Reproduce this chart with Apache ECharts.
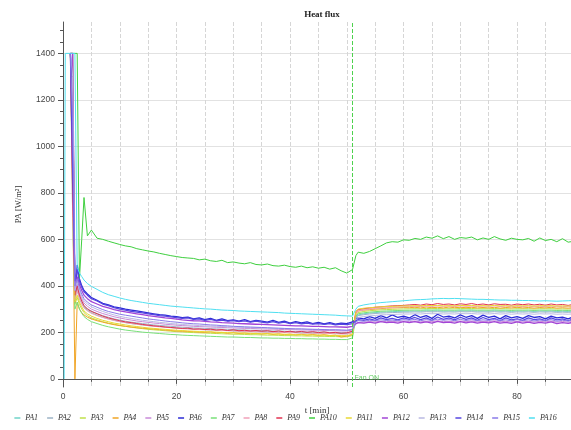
<!DOCTYPE html>
<html>
<head>
<meta charset="utf-8">
<script src="https://cdn.jsdelivr.net/npm/echarts@6/dist/echarts.min.js"></script>
<style>
  html, body { margin: 0; padding: 0; background: #fff; }
  #chart { width: 571px; height: 430px; }
</style>
</head>
<body>
<div id="chart"></div>
<script>
// time axis [min], shared by all probes
const T = [0.2, 0.4, 1.3, 1.7, 2.1, 2.5, 2.9, 3.3, 3.7, 4.3,
  5, 6, 7, 8, 9, 10, 11, 12, 13, 14,
  15, 16, 17, 18, 19, 20, 21, 22, 23, 24,
  25, 26, 27, 28, 29, 30, 31, 32, 33, 34,
  35, 36, 37, 38, 39, 40, 41, 42, 43, 44,
  45, 46, 47, 48, 49, 50, 51,
  51.6, 52, 53, 54, 55, 56, 57, 58, 59, 60,
  61, 62, 63, 64, 65, 66, 67, 68, 69, 70,
  71, 72, 73, 74, 75, 76, 77, 78, 79, 80,
  81, 82, 83, 84, 85, 86, 87, 88, 89, 90];

const PA1 = [null, null, 1400, 1000, 350, 380, 345, 325, 308, 295,
  284, 274, 265, 258, 252, 247, 242, 238, 235, 232,
  229, 227, 225, 223, 221, 219, 217, 216, 214, 213,
  212, 211, 210, 209, 208, 207, 206, 205, 205, 204,
  203, 202, 202, 201, 200, 200, 199, 198, 198, 197,
  197, 196, 196, 195, 195, 194, 200,
  265, 275, 280, 283, 285, 287, 288, 289, 290, 291,
  291, 292, 291, 293, 292, 293, 291, 292, 291, 293,
  292, 293, 291, 292, 291, 293, 291, 292, 290, 292,
  291, 292, 290, 292, 291, 292, 290, 291, 290, 292];
const PA2 = [null, null, 1400, 1400, 360, 390, 355, 332, 315, 302,
  291, 281, 272, 265, 258, 253, 248, 244, 241, 238,
  235, 232, 230, 228, 226, 224, 222, 221, 219, 218,
  217, 216, 215, 214, 213, 212, 211, 210, 209, 209,
  208, 207, 206, 206, 205, 204, 204, 203, 202, 202,
  201, 201, 200, 200, 199, 198, 204,
  262, 272, 276, 279, 281, 283, 284, 285, 286, 287,
  287, 288, 287, 289, 288, 289, 287, 288, 287, 289,
  288, 289, 287, 288, 287, 289, 287, 288, 286, 288,
  287, 288, 286, 288, 287, 288, 286, 287, 286, 288];
const PA3 = [null, null, 1400, 900, 320, 350, 320, 300, 285, 272,
  262, 254, 246, 240, 235, 230, 226, 222, 219, 216,
  213, 211, 209, 207, 205, 203, 202, 200, 199, 198,
  197, 196, 195, 194, 193, 192, 192, 191, 190, 190,
  189, 188, 188, 187, 186, 186, 185, 185, 184, 184,
  183, 183, 182, 182, 181, 181, 186,
  275, 285, 290, 293, 295, 297, 298, 299, 300, 301,
  301, 302, 301, 303, 302, 303, 301, 302, 301, 303,
  302, 303, 301, 302, 301, 303, 301, 302, 300, 302,
  301, 302, 300, 302, 301, 302, 300, 301, 300, 302];
const PA4 = [null, null, 1400, 800, 0, 330, 300, 285, 275, 265,
  258, 250, 244, 238, 233, 229, 226, 223, 220, 218,
  216, 214, 212, 210, 208, 206, 205, 204, 203, 201,
  200, 202, 198, 200, 196, 199, 195, 197, 194, 196,
  193, 195, 191, 194, 190, 193, 189, 192, 188, 191,
  187, 190, 186, 188, 180, 184, 190,
  280, 292, 296, 298, 300, 302, 304, 305, 306, 307,
  306, 308, 305, 309, 306, 308, 305, 309, 306, 308,
  306, 308, 305, 307, 305, 308, 304, 307, 305, 308,
  305, 307, 304, 307, 305, 308, 304, 306, 304, 307];
const PA5 = [null, null, 1400, 1400, 370, 410, 370, 345, 326, 312,
  300, 290, 281, 274, 267, 262, 257, 253, 249, 246,
  243, 240, 238, 235, 233, 231, 229, 228, 226, 225,
  224, 223, 222, 221, 220, 219, 218, 217, 217, 216,
  215, 214, 214, 213, 212, 212, 211, 210, 210, 209,
  209, 208, 208, 207, 206, 206, 210,
  236, 242, 244, 246, 245, 248, 246, 248, 245, 249,
  246, 249, 245, 248, 246, 250, 246, 248, 245, 249,
  246, 249, 245, 248, 246, 250, 245, 248, 244, 248,
  245, 248, 244, 248, 245, 249, 244, 247, 244, 248];
const PA6 = [null, null, 1400, 1230, 330, 490, 430, 400, 380, 365,
  350, 338, 325, 318, 310, 305, 300, 296, 292, 288,
  284, 280, 276, 274, 270, 268, 263, 266, 258, 262,
  255, 260, 252, 258, 250, 254, 248, 255, 246, 252,
  248, 244, 252, 243, 248, 240, 246, 241, 245, 238,
  243, 236, 242, 235, 240, 238, 245,
  258, 262, 258, 268, 260, 272, 262, 275, 264, 270,
  262, 276, 264, 272, 260, 278, 266, 270, 262, 275,
  265, 272, 260, 274, 264, 270, 258, 272, 262, 268,
  260, 272, 264, 268, 258, 270, 262, 266, 258, 268];
const PA7 = [null, null, 1400, 700, 300, 330, 300, 282, 268, 256,
  246, 238, 230, 224, 219, 214, 210, 207, 204, 201,
  199, 197, 195, 193, 191, 190, 188, 187, 186, 185,
  184, 183, 182, 181, 180, 180, 179, 178, 178, 177,
  176, 176, 175, 175, 174, 174, 173, 173, 172, 172,
  171, 171, 170, 170, 169, 169, 176,
  270, 280, 284, 287, 289, 291, 292, 293, 294, 295,
  295, 296, 295, 297, 296, 297, 295, 296, 295, 297,
  296, 297, 295, 296, 295, 297, 295, 296, 294, 296,
  295, 296, 294, 296, 295, 296, 294, 295, 294, 296];
const PA8 = [null, null, 1400, 700, 340, 380, 345, 322, 305, 292,
  282, 272, 264, 257, 251, 246, 242, 238, 235, 232,
  229, 226, 224, 222, 220, 218, 216, 215, 213, 212,
  211, 210, 209, 208, 207, 206, 205, 204, 204, 203,
  202, 201, 201, 200, 199, 199, 198, 197, 197, 196,
  196, 195, 195, 194, 193, 193, 198,
  280, 292, 296, 300, 303, 305, 306, 308, 309, 310,
  311, 312, 311, 313, 312, 314, 312, 313, 311, 314,
  312, 313, 311, 313, 312, 314, 311, 313, 310, 313,
  311, 313, 310, 312, 311, 313, 310, 312, 310, 313];
const PA9 = [null, null, 1400, 800, 360, 400, 360, 335, 315, 300,
  290, 280, 270, 262, 256, 250, 245, 242, 238, 234,
  231, 228, 226, 223, 221, 219, 217, 218, 214, 215,
  212, 214, 210, 212, 208, 211, 207, 209, 206, 208,
  205, 207, 203, 206, 202, 205, 201, 204, 200, 203,
  199, 202, 198, 200, 196, 198, 205,
  290, 298, 302, 305, 308, 310, 312, 314, 315, 316,
  318, 320, 317, 322, 319, 324, 320, 322, 318, 323,
  320, 324, 319, 322, 318, 323, 320, 321, 317, 322,
  319, 322, 318, 321, 317, 322, 318, 320, 316, 321];
const PA10 = [null, null, 1400, 1400, 1400, 1400, 430, 600, 780, 615,
  640, 605, 600, 592, 585, 578, 572, 568, 560, 555,
  550, 546, 540, 535, 530, 526, 522, 520, 518, 512,
  515, 508, 505, 510, 500, 503, 498, 495, 500, 492,
  490, 494, 487, 485, 489, 483, 480, 485, 478, 482,
  476, 480, 472, 478, 465, 455, 470,
  530, 545, 540, 548, 560, 572, 585, 590, 588, 598,
  596, 604, 600, 610, 605, 615, 603, 612, 600, 608,
  605, 610, 598, 606, 600, 612, 602, 596, 605, 600,
  598, 604, 592, 606, 595, 600, 590, 603, 588, 592];
const PA11 = [null, null, 1400, 1400, 330, 360, 330, 310, 292, 280,
  270, 260, 252, 246, 240, 236, 232, 228, 225, 222,
  219, 217, 215, 213, 211, 209, 208, 206, 205, 204,
  203, 202, 201, 200, 199, 198, 197, 197, 196, 195,
  194, 194, 193, 192, 192, 191, 190, 190, 189, 189,
  188, 188, 187, 187, 186, 186, 192,
  290, 300, 304, 306, 308, 310, 311, 312, 313, 314,
  314, 315, 314, 316, 315, 316, 314, 315, 314, 316,
  315, 316, 314, 315, 314, 316, 314, 315, 313, 315,
  314, 315, 313, 315, 314, 315, 313, 314, 313, 315];
const PA12 = [null, null, 1400, 1400, 380, 440, 405, 380, 360, 345,
  332, 322, 312, 305, 298, 292, 288, 284, 280, 276,
  272, 269, 266, 262, 260, 257, 254, 252, 250, 249,
  247, 245, 244, 242, 241, 240, 238, 237, 236, 235,
  234, 233, 232, 231, 230, 229, 228, 228, 227, 226,
  226, 225, 224, 224, 223, 222, 226,
  238, 242, 240, 244, 240, 246, 242, 244, 240, 246,
  242, 246, 241, 245, 240, 247, 242, 244, 240, 246,
  241, 245, 240, 244, 241, 246, 240, 243, 239, 245,
  240, 244, 239, 243, 240, 245, 238, 242, 239, 244];
const PA13 = [null, null, 1400, 1300, 380, 420, 380, 355, 336, 322,
  310, 299, 290, 282, 275, 269, 264, 260, 256, 252,
  249, 246, 243, 241, 238, 236, 234, 232, 231, 229,
  228, 227, 226, 225, 224, 223, 222, 221, 220, 220,
  219, 218, 217, 217, 216, 215, 215, 214, 213, 213,
  212, 212, 211, 211, 210, 209, 214,
  255, 264, 268, 271, 273, 275, 276, 277, 278, 279,
  279, 280, 279, 281, 280, 281, 279, 280, 279, 281,
  280, 281, 279, 280, 279, 281, 279, 280, 278, 280,
  279, 280, 278, 280, 279, 280, 278, 279, 278, 280];
const PA14 = [null, null, 1400, 900, 420, 470, 420, 395, 375, 360,
  345, 335, 322, 315, 306, 300, 296, 290, 287, 284,
  280, 276, 272, 270, 267, 263, 260, 262, 256, 258,
  252, 256, 250, 253, 248, 251, 246, 249, 244, 248,
  244, 241, 246, 240, 244, 238, 242, 237, 240, 236,
  238, 234, 238, 232, 236, 233, 238,
  250, 255, 252, 258, 252, 262, 255, 260, 254, 262,
  256, 264, 255, 262, 252, 266, 256, 262, 254, 265,
  256, 262, 252, 264, 255, 260, 250, 262, 254, 258,
  252, 262, 255, 258, 250, 262, 254, 258, 250, 260];
const PA15 = [null, null, 1400, 1100, 400, 430, 390, 365, 345, 330,
  318, 308, 298, 290, 284, 278, 274, 270, 266, 262,
  258, 255, 252, 249, 246, 244, 241, 239, 237, 236,
  234, 232, 231, 229, 228, 226, 225, 224, 223, 222,
  221, 220, 219, 218, 217, 216, 215, 215, 214, 213,
  213, 212, 211, 211, 210, 209, 212,
  245, 250, 248, 252, 250, 254, 251, 253, 250, 255,
  252, 256, 250, 255, 251, 257, 252, 255, 250, 256,
  251, 255, 250, 254, 251, 256, 250, 254, 249, 255,
  250, 254, 249, 253, 250, 255, 248, 252, 249, 254];
const PA16 = [0, 1400, 1400, 1400, 1400, 480, 455, 440, 425, 410,
  398, 385, 372, 362, 355, 348, 342, 337, 333, 329,
  325, 322, 319, 316, 313, 311, 309, 307, 305, 303,
  301, 300, 298, 296, 295, 294, 292, 291, 290, 289,
  288, 287, 286, 285, 283, 282, 281, 280, 279, 278,
  277, 276, 275, 274, 272, 271, 270,
  300, 312, 318, 322, 325, 328, 330, 332, 334, 336,
  338, 340, 341, 342, 344, 345, 346, 345, 346, 345,
  344, 343, 342, 342, 341, 340, 339, 339, 338, 338,
  337, 337, 336, 335, 336, 335, 334, 335, 336, 337];

const names = ["PA1", "PA2", "PA3", "PA4", "PA5", "PA6", "PA7", "PA8",
  "PA9", "PA10", "PA11", "PA12", "PA13", "PA14", "PA15", "PA16"];
const values = [PA1, PA2, PA3, PA4, PA5, PA6, PA7, PA8,
  PA9, PA10, PA11, PA12, PA13, PA14, PA15, PA16];
const colors = ["#6fd3c8", "#9db3c6", "#bfe04a", "#f0a424", "#c98ad8", "#2b2bd6", "#78e078", "#f0a0b8",
  "#e23250", "#3fcf3f", "#e8d834", "#a244d6", "#b9b9e2", "#5646e0", "#8a7ae8", "#4fdff0"];

const fanOn = 51;
const xMajor = [0, 20, 40, 60, 80];
const xMinor = [5, 10, 15, 20, 25, 30, 35, 40, 45, 50, 55, 60, 65, 70, 75, 80, 85];
const yMajor = [0, 200, 400, 600, 800, 1000, 1200, 1400];
const yMinor = [0, 50, 100, 150, 200, 250, 300, 350, 400, 450, 500, 550, 600, 650, 700, 750,
  800, 850, 900, 950, 1000, 1050, 1100, 1150, 1200, 1250, 1300, 1350, 1400, 1450, 1500];

const axisColor = "#555";

const series = names.map((name, i) => ({
  name: name,
  type: "line",
  xAxisIndex: 0,
  yAxisIndex: 0,
  symbol: "none",
  showSymbol: false,
  lineStyle: { width: i === 5 || i === 11 || i === 13 ? 1.3 : 1, color: colors[i] },
  itemStyle: { color: colors[i] },
  data: T.map((t, k) => [t, values[i][k]]),
}));

series[9].markLine = {
  silent: true,
  symbol: "none",
  animation: false,
  label: { show: false },
  lineStyle: { color: "#4ed24e", type: "dashed", width: 1 },
  data: [{ xAxis: fanOn }],
};

series.push({
  name: "fan",
  type: "scatter",
  silent: true,
  symbolSize: 0,
  data: [[fanOn, 5]],
  label: {
    show: true,
    formatter: "Fan ON",
    position: "right",
    distance: 2,
    color: "#3cc03c",
    fontSize: 7,
    fontFamily: "Liberation Sans",
  },
});

const chart = echarts.init(document.getElementById("chart"));
chart.setOption({
  animation: false,
  backgroundColor: "#fff",
  title: {
    text: "Heat flux",
    left: 317,
    top: 5,
    textAlign: "center",
    textStyle: { fontFamily: "Liberation Serif", fontWeight: "bold", fontSize: 9, color: "#222" },
  },
  legend: {
    data: names,
    bottom: 3,
    left: "center",
    icon: "rect",
    itemWidth: 6,
    itemHeight: 1.5,
    itemGap: 9,
    textStyle: { fontFamily: "Liberation Serif", fontStyle: "italic", fontSize: 8, color: "#333" },
  },
  grid: { left: 63, right: 0, top: 22, bottom: 43 },
  xAxis: [
    {
      type: "value",
      min: 0,
      max: 89.5,
      position: "bottom",
      name: "t [min]",
      nameLocation: "middle",
      nameGap: 19,
      nameTextStyle: { fontFamily: "Liberation Serif", fontSize: 9, color: "#333" },
      axisLine: { lineStyle: { color: axisColor } },
      axisTick: { customValues: xMajor, length: 5, lineStyle: { color: axisColor } },
      axisLabel: { customValues: xMajor, fontFamily: "Liberation Sans", fontSize: 8.5, color: "#444", margin: 5 },
      splitLine: { show: false },
    },
    {
      type: "value",
      min: 0,
      max: 89.5,
      position: "bottom",
      axisLine: { show: false },
      axisTick: { customValues: xMinor, length: 3, lineStyle: { color: axisColor } },
      axisLabel: { show: false },
      splitLine: { show: true, lineStyle: { color: "#d6d6d6", type: "dashed", width: 1 } },
    },
  ],
  yAxis: [
    {
      type: "value",
      min: -35,
      max: 1535,
      position: "left",
      name: "PA [W/m²]",
      nameLocation: "middle",
      nameGap: 40,
      nameTextStyle: { fontFamily: "Liberation Serif", fontSize: 8.5, color: "#333" },
      axisLine: { show: true, lineStyle: { color: axisColor } },
      axisTick: { show: true, customValues: yMajor, length: 5, lineStyle: { color: axisColor } },
      axisLabel: {
        customValues: yMajor,
        formatter: (v) => String(v),
        fontFamily: "Liberation Sans",
        fontSize: 8.5,
        color: "#444",
        margin: 8,
      },
      splitLine: { show: true, lineStyle: { color: "#e2e2e2", width: 1 } },
    },
    {
      type: "value",
      min: -35,
      max: 1535,
      position: "left",
      axisLine: { show: false },
      axisTick: { show: true, customValues: yMinor, length: 3, lineStyle: { color: axisColor } },
      axisLabel: { show: false },
      splitLine: { show: false },
    },
  ],
  series: series,
});
</script>
</body>
</html>
